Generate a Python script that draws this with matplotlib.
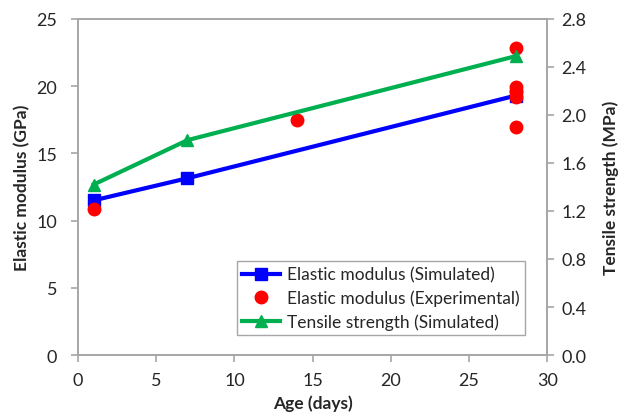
import matplotlib.pyplot as plt

plt.rcParams['font.family'] = ['Lato', 'DejaVu Sans']

# data
age_sim = [1, 7, 28]
E_sim = [11.5, 13.15, 19.3]
age_exp = [1, 14, 28, 28, 28, 28, 28]
E_exp = [10.85, 17.5, 22.8, 19.95, 19.6, 19.2, 16.95]
ft_sim = [1.42, 1.79, 2.49]

x_ticks = [0, 5, 10, 15, 20, 25, 30]
E_ticks = [0, 5, 10, 15, 20, 25]
ft_ticks = [0.0, 0.4, 0.8, 1.2, 1.6, 2.0, 2.4, 2.8]

gray = '#a6a6a6'
txt = '#262626'

fig = plt.figure(figsize=(6.29, 4.14), dpi=100)
ax = fig.add_axes([0.124, 0.140, 0.746, 0.812])
ax2 = ax.twinx()

l1, = ax.plot(age_sim, E_sim, '-s', color='#0000ff', lw=3, ms=9,
              label='Elastic modulus (Simulated)')
l2, = ax.plot(age_exp, E_exp, 'o', color='#ff0000', ms=9,
              label='Elastic modulus (Experimental)')
l3, = ax2.plot(age_sim, ft_sim, '-^', color='#00b050', lw=3, ms=9,
               label='Tensile strength (Simulated)')

ax.set_xlim(0, 30)
ax.set_ylim(0, 25)
ax2.set_ylim(0, 2.8)
ax.set_xticks(x_ticks)
ax.set_yticks(E_ticks)
ax2.set_yticks(ft_ticks)
ax2.set_yticklabels(['%.1f' % v for v in ft_ticks])

for a in (ax, ax2):
    for s in a.spines.values():
        s.set_color(gray)
        s.set_linewidth(1.2)
    a.tick_params(colors=gray, labelcolor=txt, labelsize=13, length=5, width=1.2)
ax.tick_params(axis='x', pad=7)
ax.tick_params(axis='y', pad=10)
ax2.tick_params(axis='y', pad=5)

ax.set_xlabel('Age (days)', fontsize=12.5, fontweight='bold', color=txt, labelpad=5)
ax.set_ylabel('Elastic modulus (GPa)', fontsize=12.5, fontweight='bold', color=txt, labelpad=4)
ax2.set_ylabel('Tensile strength (MPa)', fontsize=12.5, fontweight='bold', color=txt, labelpad=12)

leg = ax.legend(handles=[l1, l2, l3], loc='lower right', fontsize=12.5,
                fancybox=False, edgecolor=gray, framealpha=1,
                bbox_to_anchor=(0.953, 0.06), borderaxespad=0, handlelength=2.2,
                borderpad=0.3, labelspacing=0.4, handletextpad=0.4)
for t in leg.get_texts():
    t.set_color(txt)

fig.savefig('out.png', dpi=100)
